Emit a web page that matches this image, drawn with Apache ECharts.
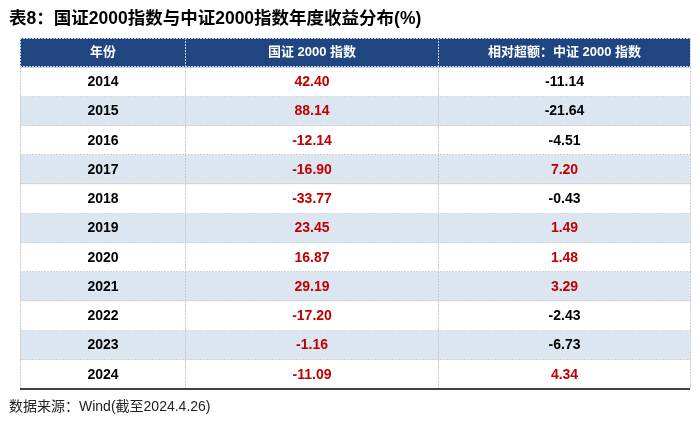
<!DOCTYPE html>
<html><head><meta charset="utf-8">
<script src="https://cdn.jsdelivr.net/npm/echarts@6/dist/echarts.min.js"></script>
<style>html,body{margin:0;padding:0;background:#fff}#c{width:700px;height:423px}</style>
</head><body><div id="c"></div>
<script>
const titleText = '表8：国证2000指数与中证2000指数年度收益分布(%)';
const sourceText = '数据来源：Wind(截至2024.4.26)';
const headers = ['年份', '国证 2000 指数', '相对超额：中证 2000 指数'];
const years = ['2014','2015','2016','2017','2018','2019','2020','2021','2022','2023','2024'];
const gz2000 = [42.40, 88.14, -12.14, -16.90, -33.77, 23.45, 16.87, 29.19, -17.20, -1.16, -11.09];
const excess = [-11.14, -21.64, -4.51, 7.20, -0.43, 1.49, 1.48, 3.29, -2.43, -6.73, 4.34];

const rowCats = ['header'].concat(years);
const colEdges = [0, 0.2463, 0.6239, 1];
const FONT_NUM = 'Liberation Sans, Arial, Noto Sans CJK SC, sans-serif';
const FONT_CJK = 'Liberation Sans, Noto Sans CJK SC, sans-serif';
const RED = '#c00000';

const chart = echarts.init(document.getElementById('c'), null, {renderer: 'canvas'});

function renderItem(params, api) {
  const i = params.dataIndex;
  const cs = params.coordSys;
  const yc = api.coord([0, api.value(1)])[1];
  const h = api.size([0, 1])[1];
  const top = yc - h / 2;
  const bottom = yc + h / 2;
  const x0 = cs.x, w = cs.width;
  const xs = colEdges.map(f => Math.round(x0 + f * w) + 0.5);
  const children = [];
  let bg = null;
  if (i === 0) bg = '#1f4680';
  else if (i % 2 === 0) bg = '#dce6f1';
  if (bg) {
    children.push({type: 'rect', shape: {x: x0, y: top, width: w, height: h}, style: {fill: bg}});
  }
  const dashColor = i === 0 ? '#c8d3e6' : '#c9c9c9';
  for (let k = 0; k < xs.length; k++) {
    children.push({type: 'line', shape: {x1: xs[k], y1: top, x2: xs[k], y2: bottom},
      style: {stroke: dashColor, lineWidth: 1, lineDash: [2, 1]}});
  }
  const yb = Math.round(bottom) - 0.5;
  if (i < rowCats.length - 1) {
    children.push({type: 'line', shape: {x1: x0, y1: yb, x2: x0 + w, y2: yb},
      style: {stroke: i === 0 ? '#c8d3e6' : '#cfcfcf', lineWidth: 1, lineDash: [2, 1]}});
  } else {
    children.push({type: 'line', shape: {x1: x0, y1: Math.round(bottom), x2: x0 + w, y2: Math.round(bottom)},
      style: {stroke: '#404040', lineWidth: 2}});
  }
  if (i === 0) {
    children.push({type: 'line', shape: {x1: x0, y1: Math.round(top) + 0.5, x2: x0 + w, y2: Math.round(top) + 0.5},
      style: {stroke: '#c8d3e6', lineWidth: 1, lineDash: [2, 1]}});
  }
  const centers = [0, 1, 2].map(k => (xs[k] + xs[k + 1]) / 2);
  if (i === 0) {
    headers.forEach((t, k) => {
      children.push({type: 'text', style: {x: centers[k], y: yc, text: t, fill: '#ffffff',
        fontSize: 13, fontWeight: 'bold', fontFamily: FONT_CJK, align: 'center', verticalAlign: 'middle'}});
    });
  } else {
    const r = i - 1;
    const vals = [years[r], gz2000[r].toFixed(2), excess[r].toFixed(2)];
    const colors = ['#000000', RED, excess[r] > 0 ? RED : '#000000'];
    vals.forEach((t, k) => {
      children.push({type: 'text', style: {x: centers[k], y: yc + 0.5, text: t, fill: colors[k],
        fontSize: 14, fontWeight: 'bold', fontFamily: FONT_NUM, align: 'center', verticalAlign: 'middle'}});
    });
  }
  return {type: 'group', children: children};
}

chart.setOption({
  animation: false,
  backgroundColor: '#ffffff',
  title: [
    {text: titleText, left: 4, top: 5,
      textStyle: {fontSize: 17.5, fontWeight: 'bold', color: '#000', fontFamily: FONT_CJK}},
    {text: sourceText, left: 4, top: 395,
      textStyle: {fontSize: 14, fontWeight: 'normal', color: '#222', fontFamily: FONT_CJK}}
  ],
  grid: {left: 20, right: 10, top: 38, bottom: 34},
  xAxis: {type: 'value', min: 0, max: 1, show: false},
  yAxis: {type: 'category', data: rowCats, inverse: true, show: false},
  series: [{
    type: 'custom',
    renderItem: renderItem,
    encode: {x: 0, y: 1},
    data: rowCats.map(c => [0, c])
  }]
});
</script></body></html>
